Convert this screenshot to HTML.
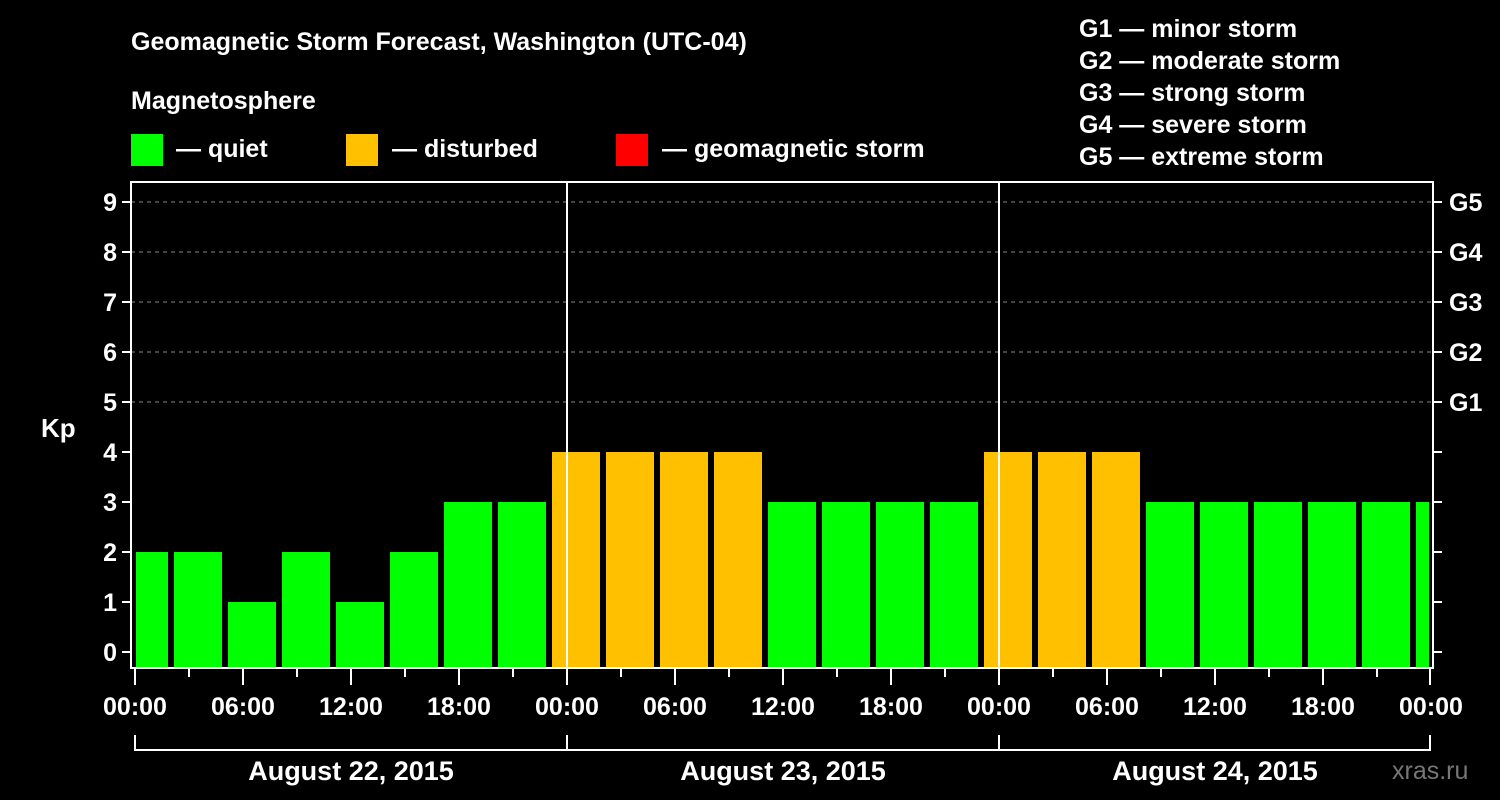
<!DOCTYPE html>
<html><head><meta charset="utf-8"><style>
body{margin:0;background:#000;}
svg{display:block;font-family:"Liberation Sans",Arial,sans-serif;font-weight:bold;}
</style></head><body>
<svg width="1500" height="800" xmlns="http://www.w3.org/2000/svg">
<rect width="1500" height="800" fill="#000"/>
<text x="131" y="50" fill="#fff" font-size="25">Geomagnetic Storm Forecast, Washington (UTC-04)</text>
<text x="131" y="109" fill="#fff" font-size="25">Magnetosphere</text>
<g>
<rect x="131" y="134" width="32" height="32" fill="#00ff00"/>
<text x="176" y="157" fill="#fff" font-size="25">— quiet</text>
<rect x="346" y="134" width="32" height="32" fill="#ffc000"/>
<text x="392" y="157" fill="#fff" font-size="25">— disturbed</text>
<rect x="616" y="134" width="32" height="32" fill="#ff0000"/>
<text x="662" y="157" fill="#fff" font-size="25">— geomagnetic storm</text>
</g>
<g fill="#fff" font-size="25">
<text x="1079" y="37">G1 — minor storm</text>
<text x="1079" y="69">G2 — moderate storm</text>
<text x="1079" y="101">G3 — strong storm</text>
<text x="1079" y="133">G4 — severe storm</text>
<text x="1079" y="165">G5 — extreme storm</text>
</g>
<text x="41" y="437" fill="#fff" font-size="26">Kp</text>
<text x="1392" y="779" fill="#777" font-size="25" font-weight="normal">xras.ru</text>
<g id="plot"></g>
</svg>
<script>
const values = [2,2,1,2,1,2,3,3,4,4,4,4,3,3,3,3,4,4,4,3,3,3,3,3,3];
const startHours = [-1,2,5,8,11,14,17,20,23,26,29,32,35,38,41,44,47,50,53,56,59,62,65,68,71];
const yTicks = [0,1,2,3,4,5,6,7,8,9];
const gLabels = ["G1","G2","G3","G4","G5"];
const xTickLabels = ["00:00","06:00","12:00","18:00","00:00","06:00","12:00","18:00","00:00","06:00","12:00","18:00","00:00"];
const dayLabels = ["August 22, 2015","August 23, 2015","August 24, 2015"];

const NS="http://www.w3.org/2000/svg";
const g=document.getElementById('plot');
const X0=135, PXH=18, L=131, R=1433, T=182, B=668;
const xs=h=>X0+h*PXH;
const ys=v=>652-v*50;
function mk(tag,attrs,parent){const e=document.createElementNS(NS,tag);for(const k in attrs)e.setAttribute(k,attrs[k]);(parent||g).appendChild(e);return e;}
function col(v){return v>=5?'#ff0000':(v>=4?'#ffc000':'#00ff00');}
// gridlines
yTicks.forEach(v=>{ if(v>=5){const l=mk('line',{x1:L,x2:R,y1:ys(v),y2:ys(v),stroke:'#888','stroke-dasharray':'4,4','stroke-width':1});

}});
// bars
values.forEach((v,i)=>{
 let x1=Math.max(xs(startHours[i])+3,L+5), x2=Math.min(xs(startHours[i]+3)-3,R-4);
 const r=mk('rect',{x:x1,y:ys(v),width:x2-x1,height:B-ys(v),fill:col(v)});
 
 
});
// day separators
[1,2].forEach(d=>{const l=mk('line',{x1:xs(d*24),x2:xs(d*24),y1:T,y2:B,stroke:'#fff','stroke-width':2});

});
// frame
const fr=mk('rect',{x:L,y:T,width:R-L,height:B-T,fill:'none',stroke:'#fff','stroke-width':2});


// y ticks
yTicks.forEach(v=>{
 mk('line',{x1:L-9,x2:L,y1:ys(v),y2:ys(v),stroke:'#fff','stroke-width':2});
 mk('line',{x1:R,x2:R+9,y1:ys(v),y2:ys(v),stroke:'#fff','stroke-width':2});
 const t=mk('text',{x:L-14,y:ys(v)+9,fill:'#fff','font-size':25,'text-anchor':'end'});t.textContent=v;
 
 
 if(v>=5){const gt=mk('text',{x:1449,y:ys(v)+9,fill:'#fff','font-size':25});gt.textContent=gLabels[v-5];
 
 }
});
// x ticks
for(let h=0;h<=72;h+=3){const maj=h%6===0;mk('line',{x1:xs(h)-(h===72?1:0),x2:xs(h)-(h===72?1:0),y1:B,y2:maj?685:677,stroke:'#fff','stroke-width':2});}
xTickLabels.forEach((s,i)=>{const t=mk('text',{x:xs(i*6),y:715,fill:'#fff','font-size':25,'text-anchor':'middle'});t.textContent=s;

});
// day brackets
mk('line',{x1:xs(0),x2:xs(72)-1,y1:750,y2:750,stroke:'#fff','stroke-width':2});
[0,24,48,72].forEach(h=>mk('line',{x1:xs(h)-(h===72?1:0),x2:xs(h)-(h===72?1:0),y1:735,y2:751,stroke:'#fff','stroke-width':2}));
dayLabels.forEach((s,i)=>{const t=mk('text',{x:xs(i*24+12),y:780,fill:'#fff','font-size':27,'text-anchor':'middle'});t.textContent=s;

});
</script>
</body></html>
